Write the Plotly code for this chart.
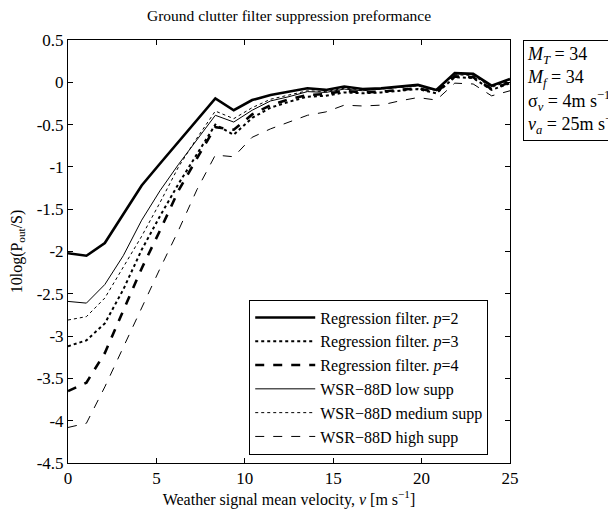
import plotly.graph_objects as go

# velocities: 25 points, step 25/24 m/s
velocity = [round(n * 25 / 24, 3) for n in range(25)]

reg_p2 = [-2.02, -2.05, -1.90, -1.56, -1.22, -0.96, -0.70, -0.45, -0.19, -0.33, -0.21, -0.15, -0.11,
          -0.07, -0.09, -0.05, -0.08, -0.07, -0.05, -0.03, -0.09, 0.11, 0.10, -0.04, 0.04]
reg_p3 = [-3.12, -3.05, -2.85, -2.45, -1.98, -1.58, -1.20, -0.85, -0.50, -0.62, -0.42, -0.30, -0.23,
          -0.17, -0.16, -0.12, -0.13, -0.12, -0.10, -0.08, -0.13, 0.06, 0.05, -0.09, -0.01]
reg_p4 = [-3.65, -3.55, -3.20, -2.70, -2.20, -1.75, -1.28, -0.90, -0.53, -0.56, -0.38, -0.27, -0.20,
          -0.15, -0.14, -0.10, -0.12, -0.11, -0.09, -0.07, -0.12, 0.07, 0.06, -0.08, 0.00]
wsr_low = [-2.59, -2.61, -2.39, -2.05, -1.63, -1.28, -0.97, -0.68, -0.39, -0.47, -0.33, -0.22, -0.17,
           -0.11, -0.12, -0.08, -0.10, -0.08, -0.06, -0.04, -0.10, 0.10, 0.09, -0.05, 0.03]
wsr_med = [-2.81, -2.77, -2.55, -2.18, -1.82, -1.42, -1.00, -0.66, -0.34, -0.43, -0.30, -0.20, -0.15,
           -0.10, -0.11, -0.07, -0.09, -0.08, -0.06, -0.04, -0.10, 0.09, 0.08, -0.06, 0.02]
wsr_high = [-4.08, -4.03, -3.60, -3.13, -2.65, -2.20, -1.75, -1.27, -0.86, -0.88, -0.65, -0.55, -0.47,
            -0.39, -0.35, -0.27, -0.28, -0.27, -0.22, -0.18, -0.21, -0.01, -0.02, -0.16, -0.10]

series = [
    ("Regression filter. <i>p</i>=2", reg_p2, 2.6, "solid"),
    ("Regression filter. <i>p</i>=3", reg_p3, 2.0, "dot"),
    ("Regression filter. <i>p</i>=4", reg_p4, 2.6, "dash"),
    ("WSR−88D low supp", wsr_low, 1.0, "solid"),
    ("WSR−88D medium supp", wsr_med, 1.0, "dot"),
    ("WSR−88D high supp", wsr_high, 1.0, "dash"),
]

y_ticks = [0.5, 0, -0.5, -1, -1.5, -2, -2.5, -3, -3.5, -4, -4.5]
y_tick_labels = ["0.5", "0", "-0.5", "-1", "-1.5", "-2", "-2.5", "-3", "-3.5", "-4", "-4.5"]
x_ticks = [0, 5, 10, 15, 20, 25]

font_family = "Liberation Serif, Times New Roman, serif"

fig = go.Figure()
for name, vals, w, dash in series:
    fig.add_trace(go.Scatter(x=velocity, y=vals, mode="lines", name=name,
                             line=dict(color="black", width=w, dash=dash)))

axis_common = dict(showline=True, linecolor="black", linewidth=1, mirror="ticks",
                   ticks="inside", ticklen=5, tickcolor="black", showgrid=False,
                   zeroline=False, automargin=False, tickfont=dict(size=17, color="black"))

fig.update_layout(
    width=608, height=504,
    margin=dict(l=60, r=106, t=32, b=49),
    paper_bgcolor="white", plot_bgcolor="white",
    font=dict(family=font_family, color="black", size=15),
    title=dict(text="Ground clutter filter suppression preformance", x=0.5, xref="paper",
               y=0.985, yanchor="middle", font=dict(size=15.5)),
    xaxis=dict(range=[0, 25], tickvals=x_ticks,
               title=dict(text="Weather signal mean velocity, <i>v</i> [m s<sup>−1</sup>]",
                          standoff=2, font=dict(size=16)),
               **axis_common),
    yaxis=dict(range=[-4.5, 0.5], tickvals=y_ticks, ticktext=y_tick_labels,
               title=dict(text="10log(P<sub>out</sub>/S)", standoff=16, font=dict(size=16)),
               **axis_common),
    legend=dict(x=0.41, y=0.02, xanchor="left", yanchor="bottom",
                bordercolor="black", borderwidth=1, bgcolor="white",
                font=dict(size=16), tracegroupgap=0, itemwidth=60),
    showlegend=True,
)

fig.add_annotation(
    xref="paper", yref="paper", x=1.03, y=1.0, xanchor="left", yanchor="top",
    align="left", showarrow=False, bordercolor="black", borderwidth=1, borderpad=3,
    bgcolor="white", font=dict(size=18),
    text=("<i>M</i><sub><i>T</i></sub> = 34<br>"
          "<i>M</i><sub><i>f</i></sub> = 34<br>"
          "σ<sub><i>v</i></sub> = 4m s<sup>−1</sup><br>"
          "<i>v</i><sub><i>a</i></sub> = 25m s<sup>−1</sup>"),
)

fig.write_html("out.html")
